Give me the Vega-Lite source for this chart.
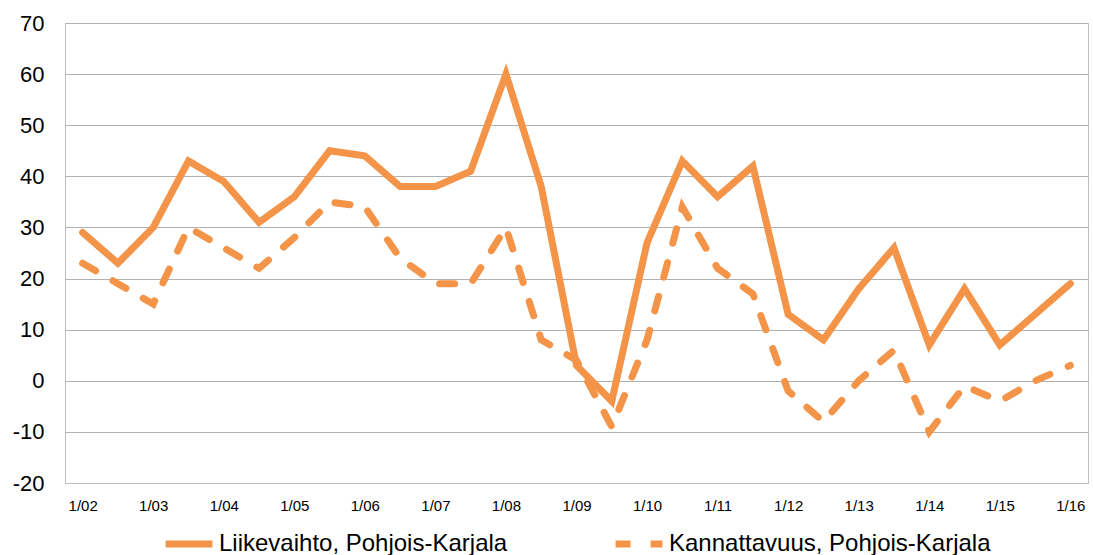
{
  "$schema": "https://vega.github.io/schema/vega-lite/v6.json",
  "width": 1023,
  "height": 460,
  "autosize": "none",
  "padding": {"left": 65, "top": 23, "right": 5, "bottom": 72},
  "background": "white",
  "config": {
    "font": "Liberation Sans",
    "view": {"stroke": "#bfbfbf", "strokeWidth": 1}
  },
  "data": {
    "values": [
      {"period": "1/02", "i": 0, "series": "Liikevaihto, Pohjois-Karjala", "value": 29},
      {"period": "7/02", "i": 1, "series": "Liikevaihto, Pohjois-Karjala", "value": 23},
      {"period": "1/03", "i": 2, "series": "Liikevaihto, Pohjois-Karjala", "value": 30},
      {"period": "7/03", "i": 3, "series": "Liikevaihto, Pohjois-Karjala", "value": 43},
      {"period": "1/04", "i": 4, "series": "Liikevaihto, Pohjois-Karjala", "value": 39},
      {"period": "7/04", "i": 5, "series": "Liikevaihto, Pohjois-Karjala", "value": 31},
      {"period": "1/05", "i": 6, "series": "Liikevaihto, Pohjois-Karjala", "value": 36},
      {"period": "7/05", "i": 7, "series": "Liikevaihto, Pohjois-Karjala", "value": 45},
      {"period": "1/06", "i": 8, "series": "Liikevaihto, Pohjois-Karjala", "value": 44},
      {"period": "7/06", "i": 9, "series": "Liikevaihto, Pohjois-Karjala", "value": 38},
      {"period": "1/07", "i": 10, "series": "Liikevaihto, Pohjois-Karjala", "value": 38},
      {"period": "7/07", "i": 11, "series": "Liikevaihto, Pohjois-Karjala", "value": 41},
      {"period": "1/08", "i": 12, "series": "Liikevaihto, Pohjois-Karjala", "value": 60},
      {"period": "7/08", "i": 13, "series": "Liikevaihto, Pohjois-Karjala", "value": 38},
      {"period": "1/09", "i": 14, "series": "Liikevaihto, Pohjois-Karjala", "value": 3},
      {"period": "7/09", "i": 15, "series": "Liikevaihto, Pohjois-Karjala", "value": -4},
      {"period": "1/10", "i": 16, "series": "Liikevaihto, Pohjois-Karjala", "value": 27},
      {"period": "7/10", "i": 17, "series": "Liikevaihto, Pohjois-Karjala", "value": 43},
      {"period": "1/11", "i": 18, "series": "Liikevaihto, Pohjois-Karjala", "value": 36},
      {"period": "7/11", "i": 19, "series": "Liikevaihto, Pohjois-Karjala", "value": 42},
      {"period": "1/12", "i": 20, "series": "Liikevaihto, Pohjois-Karjala", "value": 13},
      {"period": "7/12", "i": 21, "series": "Liikevaihto, Pohjois-Karjala", "value": 8},
      {"period": "1/13", "i": 22, "series": "Liikevaihto, Pohjois-Karjala", "value": 18},
      {"period": "7/13", "i": 23, "series": "Liikevaihto, Pohjois-Karjala", "value": 26},
      {"period": "1/14", "i": 24, "series": "Liikevaihto, Pohjois-Karjala", "value": 7},
      {"period": "7/14", "i": 25, "series": "Liikevaihto, Pohjois-Karjala", "value": 18},
      {"period": "1/15", "i": 26, "series": "Liikevaihto, Pohjois-Karjala", "value": 7},
      {"period": "7/15", "i": 27, "series": "Liikevaihto, Pohjois-Karjala", "value": 13},
      {"period": "1/16", "i": 28, "series": "Liikevaihto, Pohjois-Karjala", "value": 19},
      {"period": "1/02", "i": 0, "series": "Kannattavuus, Pohjois-Karjala", "value": 23},
      {"period": "7/02", "i": 1, "series": "Kannattavuus, Pohjois-Karjala", "value": 19},
      {"period": "1/03", "i": 2, "series": "Kannattavuus, Pohjois-Karjala", "value": 15},
      {"period": "7/03", "i": 3, "series": "Kannattavuus, Pohjois-Karjala", "value": 30},
      {"period": "1/04", "i": 4, "series": "Kannattavuus, Pohjois-Karjala", "value": 26},
      {"period": "7/04", "i": 5, "series": "Kannattavuus, Pohjois-Karjala", "value": 22},
      {"period": "1/05", "i": 6, "series": "Kannattavuus, Pohjois-Karjala", "value": 28},
      {"period": "7/05", "i": 7, "series": "Kannattavuus, Pohjois-Karjala", "value": 35},
      {"period": "1/06", "i": 8, "series": "Kannattavuus, Pohjois-Karjala", "value": 34},
      {"period": "7/06", "i": 9, "series": "Kannattavuus, Pohjois-Karjala", "value": 24},
      {"period": "1/07", "i": 10, "series": "Kannattavuus, Pohjois-Karjala", "value": 19},
      {"period": "7/07", "i": 11, "series": "Kannattavuus, Pohjois-Karjala", "value": 19},
      {"period": "1/08", "i": 12, "series": "Kannattavuus, Pohjois-Karjala", "value": 30},
      {"period": "7/08", "i": 13, "series": "Kannattavuus, Pohjois-Karjala", "value": 8},
      {"period": "1/09", "i": 14, "series": "Kannattavuus, Pohjois-Karjala", "value": 4},
      {"period": "7/09", "i": 15, "series": "Kannattavuus, Pohjois-Karjala", "value": -9},
      {"period": "1/10", "i": 16, "series": "Kannattavuus, Pohjois-Karjala", "value": 8},
      {"period": "7/10", "i": 17, "series": "Kannattavuus, Pohjois-Karjala", "value": 34},
      {"period": "1/11", "i": 18, "series": "Kannattavuus, Pohjois-Karjala", "value": 22},
      {"period": "7/11", "i": 19, "series": "Kannattavuus, Pohjois-Karjala", "value": 17},
      {"period": "1/12", "i": 20, "series": "Kannattavuus, Pohjois-Karjala", "value": -2},
      {"period": "7/12", "i": 21, "series": "Kannattavuus, Pohjois-Karjala", "value": -8},
      {"period": "1/13", "i": 22, "series": "Kannattavuus, Pohjois-Karjala", "value": 0},
      {"period": "7/13", "i": 23, "series": "Kannattavuus, Pohjois-Karjala", "value": 6},
      {"period": "1/14", "i": 24, "series": "Kannattavuus, Pohjois-Karjala", "value": -10},
      {"period": "7/14", "i": 25, "series": "Kannattavuus, Pohjois-Karjala", "value": -1},
      {"period": "1/15", "i": 26, "series": "Kannattavuus, Pohjois-Karjala", "value": -4},
      {"period": "7/15", "i": 27, "series": "Kannattavuus, Pohjois-Karjala", "value": 0},
      {"period": "1/16", "i": 28, "series": "Kannattavuus, Pohjois-Karjala", "value": 3}
    ]
  },
  "mark": {"type": "line", "strokeWidth": 7, "strokeCap": "round", "strokeJoin": "miter", "color": "#F39449"},
  "encoding": {
    "x": {
      "field": "period",
      "type": "ordinal",
      "sort": {"field": "i"},
      "scale": {"type": "point", "padding": 0.5},
      "axis": {
        "title": null,
        "values": ["1/02","1/03","1/04","1/05","1/06","1/07","1/08","1/09","1/10","1/11","1/12","1/13","1/14","1/15","1/16"],
        "labelAngle": 0,
        "labelFontSize": 15,
        "labelColor": "#000000",
        "labelPadding": 15,
        "ticks": false,
        "grid": false,
        "domainColor": "#bfbfbf",
        "domainWidth": 1
      }
    },
    "y": {
      "field": "value",
      "type": "quantitative",
      "scale": {"domain": [-20, 70], "nice": false, "zero": false},
      "axis": {
        "title": null,
        "values": [-20, -10, 0, 10, 20, 30, 40, 50, 60, 70],
        "labelExpr": "'' + datum.value",
        "labelFontSize": 22,
        "labelColor": "#000000",
        "labelPadding": 21,
        "ticks": false,
        "grid": true,
        "gridColor": "#b0b0b0",
        "gridWidth": 1,
        "domainColor": "#bfbfbf",
        "domainWidth": 1
      }
    },
    "strokeDash": {
      "field": "series",
      "type": "nominal",
      "scale": {
        "domain": ["Liikevaihto, Pohjois-Karjala", "Kannattavuus, Pohjois-Karjala"],
        "range": [[1, 0], [15, 20]]
      },
      "legend": {
        "title": null,
        "orient": "none",
        "legendX": 97,
        "legendY": 494,
        "direction": "horizontal",
        "symbolType": "stroke",
        "symbolSize": 2200,
        "symbolStrokeWidth": 7,
        "symbolStrokeColor": "#F39449",
        "labelFontSize": 24,
        "labelLimit": 500,
        "labelColor": "#000000",
        "labelOffset": 3,
        "columnPadding": 93
      }
    }
  }
}
